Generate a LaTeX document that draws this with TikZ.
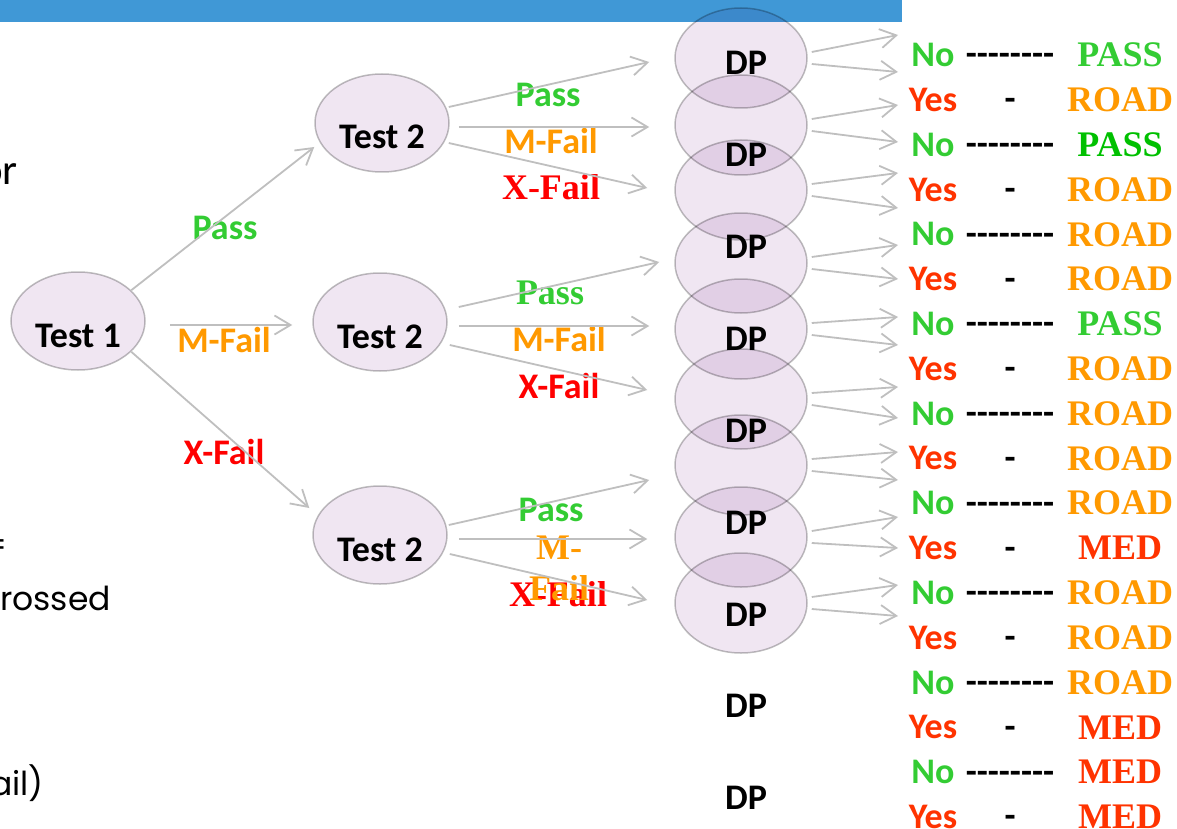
\documentclass[tikz,border=0pt]{standalone}
\usepackage{fontspec}
\usepackage{xcolor}
\usepackage{tikz}
\usetikzlibrary{
  positioning,
  shapes.geometric,
  arrows.meta
}
\newfontfamily\carlito{Carlito}
\newfontfamily\libserif{Liberation Serif}
\newfontfamily\poppins{Poppins}
\newcommand\fcal{\carlito\bfseries\fontsize{36}{42}\selectfont}
\newcommand\fser{\libserif\bfseries\fontsize{36}{41}\selectfont}
\newcommand\fgot{\poppins\fontsize{33}{38}\selectfont}
\definecolor{barblue}{RGB}{64,152,214}
\definecolor{lav}{RGB}{240,230,242}
\definecolor{lgray}{RGB}{191,191,191}
\definecolor{pgreen}{RGB}{51,204,51}
\definecolor{dgreen}{RGB}{0,192,0}
\definecolor{porange}{RGB}{255,153,0}
\definecolor{pred}{RGB}{255,0,0}
\definecolor{yred}{RGB}{255,51,0}

\begin{document}
\begin{tikzpicture}[x=1pt,y=-1pt,
  ell/.style={ellipse,draw=lgray,line width=1.5pt,fill=lav,inner sep=0pt},
  tst/.style={ell,minimum width=134pt,minimum height=98pt,font=\fcal,text height=52pt,text depth=0pt},
  dpe/.style={ell,minimum width=132pt,minimum height=100pt},
  arr/.style={draw=lgray,line width=1.8pt,-{Straight Barb[length=16pt,width=19pt]}},
  cal/.style={font=\fcal},
  ser/.style={font=\fser},
  frag/.style={font=\fgot,inner sep=0pt}]
  \useasboundingbox (0,0) rectangle (1177,829);
  % 帯
  \fill[barblue] (0,0) rectangle (902,22);
  % 左端の文字
  \node[font=\carlito\fontsize{43}{48}\selectfont,inner sep=0pt,anchor=base east] (fr1) at (18,185) {or};
  \node[frag,anchor=base east] (fr2) at (8,556) {=};
  \node[frag,anchor=base west] (fr3) at (0,610) {rossed};
  \node[frag,anchor=base east] (fr4) at (44,795) {ail)};
  % 楕円
  \begin{scope}[blend mode=multiply]
    \node[tst] (t1) at (78,321) {Test 1};
    \node[tst] (t2a) at (382,123) {Test 2};
    \node[tst] (t2b) at (380,322) {Test 2};
    \node[tst] (t2c) at (380,535) {Test 2};
    \foreach \k/\y in {1/58,2/125,3/190,4/263,5/329,6/399,7/465,8/537,9/603}
      \node[dpe] (dp\k) at (741,\y) {};
  \end{scope}
  % ラベル
  \node[cal,text=pgreen] (p1) at (225,228) {Pass};
  \node[cal,text=porange] (m1) at (224,340) {M-Fail};
  \node[cal,text=pred] (x1) at (224,452) {X-Fail};
  \node[cal,text=pgreen] (p2) at (548,95) {Pass};
  \node[cal,text=porange] (m2) at (551,141) {M-Fail};
  \node[ser,text=pred] (x2) at (551,187) {X-Fail};
  \node[ser,text=pgreen] (p3) at (550,293) {Pass};
  \node[cal,text=porange] (m3) at (559,339) {M-Fail};
  \node[cal,text=pred] (x3) at (559,386) {X-Fail};
  \node[cal,text=pgreen] (p4) at (551,510) {Pass};
  \node[ser,text=pred] (x4) at (558,594) {X-Fail};
  \node[ser,text=porange,align=center] (m4) at (559,568.5) {M-\\Fail};
  % Test 1 から
  \draw[arr] (t1.30) -- ([yshift=-24pt]t2a.west);
  \draw[arr] ([xshift=24pt,yshift=-4pt]t1.east) -- ([xshift=-20pt,yshift=-3pt]t2b.west);
  \draw[arr] (t1.-30) -- ([xshift=-3pt,yshift=27pt]t2c.west);
  % Test 2 から
  \draw[arr] ([xshift=-1pt,yshift=16pt]t2a.east) -- ([xshift=-25pt,yshift=-4pt]dp1.west);
  \draw[arr] ([xshift=9pt,yshift=-4pt]t2a.east) -- ([xshift=-25pt,yshift=-2pt]dp2.west);
  \draw[arr] ([xshift=-1pt,yshift=-20pt]t2a.east) -- ([xshift=-27pt,yshift=2pt]dp3.west);
  \draw[arr] ([xshift=11pt,yshift=15pt]t2b.east) -- ([xshift=-15pt,yshift=1pt]dp4.west);
  \draw[arr] ([xshift=11pt,yshift=-4pt]t2b.east) -- ([xshift=-25pt,yshift=3pt]dp5.west);
  \draw[arr] ([xshift=2pt,yshift=-23pt]t2b.east) -- ([xshift=-27pt,yshift=9pt]dp6.west);
  \draw[arr] ([xshift=1pt,yshift=10pt]t2c.east) -- ([xshift=-25pt,yshift=-15pt]dp7.west);
  \draw[arr] ([xshift=11pt,yshift=-4pt]t2c.east) -- ([xshift=-27pt,yshift=-2pt]dp8.west);
  \draw[arr] ([xshift=2pt,yshift=-19pt]t2c.east) -- ([xshift=-27pt,yshift=3pt]dp9.west);
  % DP から
  \foreach \k/\ya/\yb in {1/35/72,2/105/142,3/173/208,4/245/279,5/317/345,6/387/418,7/452/480,8/517/548,9/585/616}{
    \coordinate (ea\k) at (898,\ya);
    \coordinate (eb\k) at (898,\yb);
    \draw[arr] ([xshift=4pt,yshift=6pt]dp\k.east) -- (ea\k);
    \draw[arr] ([xshift=4pt,yshift=-6pt]dp\k.east) -- (eb\k);
  }
  % DP の文字
  \foreach \k in {1,...,9}
    \node[cal] (dpl\k) at (746,{63+91.9*(\k-1)}) {DP};
  % 右の列
  \foreach \k/\ra/\ca/\rb/\cc in {1/PASS/pgreen/ROAD/porange,2/PASS/dgreen/ROAD/porange,
      3/ROAD/porange/ROAD/porange,4/PASS/pgreen/ROAD/porange,5/ROAD/porange/ROAD/porange,
      6/ROAD/porange/MED/yred,7/ROAD/porange/ROAD/porange,8/ROAD/porange/MED/yred,
      9/MED/yred/MED/yred}{
    \pgfmathsetmacro\yn{55+89.64*(\k-1)}
    \pgfmathsetmacro\yy{\yn+44.82}
    \node[cal,text=pgreen] (no\k) at (933,\yn) {No};
    \node[cal,anchor=base] (dn\k) at (1010,{\yn+11}) {-{}-{}-{}-{}-{}-{}-{}-};
    \node[ser,text=\ca] (ra\k) at (1120,\yn) {\ra};
    \node[cal,text=yred] (yes\k) at (933,\yy) {Yes};
    \node[cal,anchor=base] (dy\k) at (1010,{\yy+11}) {-};
    \node[ser,text=\cc] (rb\k) at (1120,\yy) {\rb};
  }
\end{tikzpicture}
\end{document}
